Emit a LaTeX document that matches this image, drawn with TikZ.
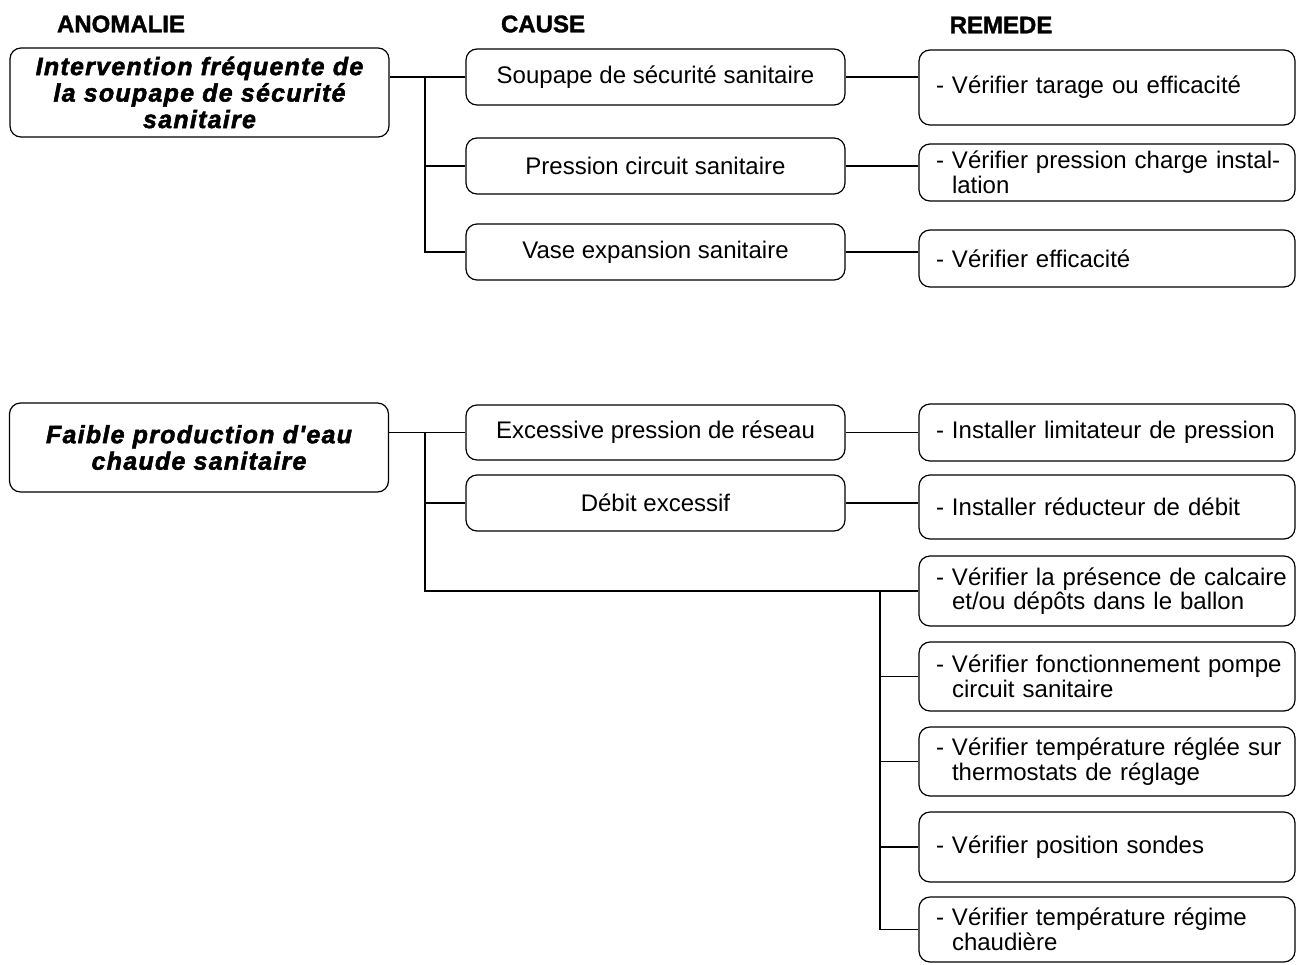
\documentclass[tikz,border=0pt]{standalone}
\usepackage{fontspec}
\setmainfont{Liberation Sans}
\newfontfamily\anomfont[LetterSpace=5, BoldItalicFeatures={FakeBold=2}]{Liberation Sans}
\newfontfamily\hdrfont[BoldFeatures={FakeBold=1.5}]{Liberation Sans}
\newcommand\ind{\hphantom{-\ }}
\begin{document}
\begin{tikzpicture}[x=1pt,y=-1pt,
  box/.style={draw, line width=1.2pt, rounded corners=11pt, inner sep=0pt},
  anom/.style={box, minimum width=379pt, minimum height=89pt, align=center,
    font=\anomfont\bfseries\itshape\fontsize{25}{26.5}\selectfont},
  cause/.style={box, minimum width=379pt, font=\fontsize{24}{25}\selectfont},
  rem/.style={box, inner xsep=17pt, text width=342pt, align=left,
    font=\fontsize{24}{24.5}\selectfont},
  hdr/.style={font=\hdrfont\bfseries\fontsize{24}{25}\selectfont},
  conn/.style={line width=1.8pt}]
\useasboundingbox[fill=white] (0,0) rectangle (1296,964);
% headers
\node[hdr] (h1) at (121,24) {ANOMALIE};
\node[hdr] (h2) at (543,24) {CAUSE};
\node[hdr] (h3) at (1001,25) {REMEDE};
% anomalies
\node[anom] (a1) at (199.5,92.5) {Intervention fréquente de\\la soupape de sécurité\\sanitaire};
\node[anom] (a2) at (199,447.5) {Faible production d'eau\\chaude sanitaire};
% causes
\node[cause, minimum height=56pt] (c1) at (655.5,77) {Soupape de sécurité sanitaire};
\node[cause, minimum height=56pt] (c2) at (655.5,166) {Pression circuit sanitaire};
\node[cause, minimum height=56pt] (c3) at (655.5,252) {Vase expansion sanitaire};
\node[cause, minimum height=55pt] (c4) at (655.5,432.5) {Excessive pression de réseau};
\node[cause, minimum height=56pt] (c5) at (655.5,503) {Débit excessif};
% remedies
\node[rem, minimum height=75pt] (r1) at (1107,87.5) {\mbox{- Vérifier tarage ou efficacité}};
\node[rem, minimum height=57pt] (r2) at (1107,172.5) {\mbox{- Vérifier pression charge instal-}\\\mbox{\ind lation}};
\node[rem, minimum height=57pt] (r3) at (1107,258.5) {\mbox{- Vérifier efficacité}};
\node[rem, minimum height=57pt] (r4) at (1107,432.5) {\mbox{- Installer limitateur de pression}};
\node[rem, minimum height=64pt] (r5) at (1107,507) {\mbox{- Installer réducteur de débit}};
\node[rem, minimum height=70pt] (r6) at (1107,591) {\mbox{- Vérifier la présence de calcaire}\\\mbox{\ind et/ou dépôts dans le ballon}};
\node[rem, minimum height=69pt] (r7) at (1107,676.5) {\mbox{- Vérifier fonctionnement pompe}\\\mbox{\ind circuit sanitaire}};
\node[rem, minimum height=69pt] (r8) at (1107,761.5) {\mbox{- Vérifier température réglée sur}\\\mbox{\ind thermostats de réglage}};
\node[rem, minimum height=70pt] (r9) at (1107,847) {\mbox{- Vérifier position sondes}};
\node[rem, minimum height=65pt] (r10) at (1107,929.5) {\mbox{- Vérifier température régime}\\\mbox{\ind chaudière}};
% trunks
\coordinate (t1) at (425,0);
\coordinate (t2) at (880,0);
% upper connectors
\draw[conn] (a1.east |- c1.west) -- (c1.west);
\draw[conn] (t1 |- c1.west) -- (t1 |- c3.west) -- (c3.west);
\draw[conn] (t1 |- c2.west) -- (c2.west);
\draw[conn] (c1.east) -- (c1.east -| r1.west);
\draw[conn] (c2.east) -- (c2.east -| r2.west);
\draw[conn] (c3.east) -- (c3.east -| r3.west);
% lower connectors
\draw[conn] (a2.east |- c4.west) -- (c4.west);
\draw[conn] (t1 |- c4.west) -- (t1 |- r6.west) -- (r6.west);
\draw[conn] (t1 |- c5.west) -- (c5.west);
\draw[conn] (c4.east) -- (c4.east -| r4.west);
\draw[conn] (c5.east) -- (c5.east -| r5.west);
\draw[conn] (t2 |- r6.west) -- (t2 |- r10.west) -- (r10.west);
\draw[conn] (t2 |- r7.west) -- (r7.west);
\draw[conn] (t2 |- r8.west) -- (r8.west);
\draw[conn] (t2 |- r9.west) -- (r9.west);
\end{tikzpicture}
\end{document}
